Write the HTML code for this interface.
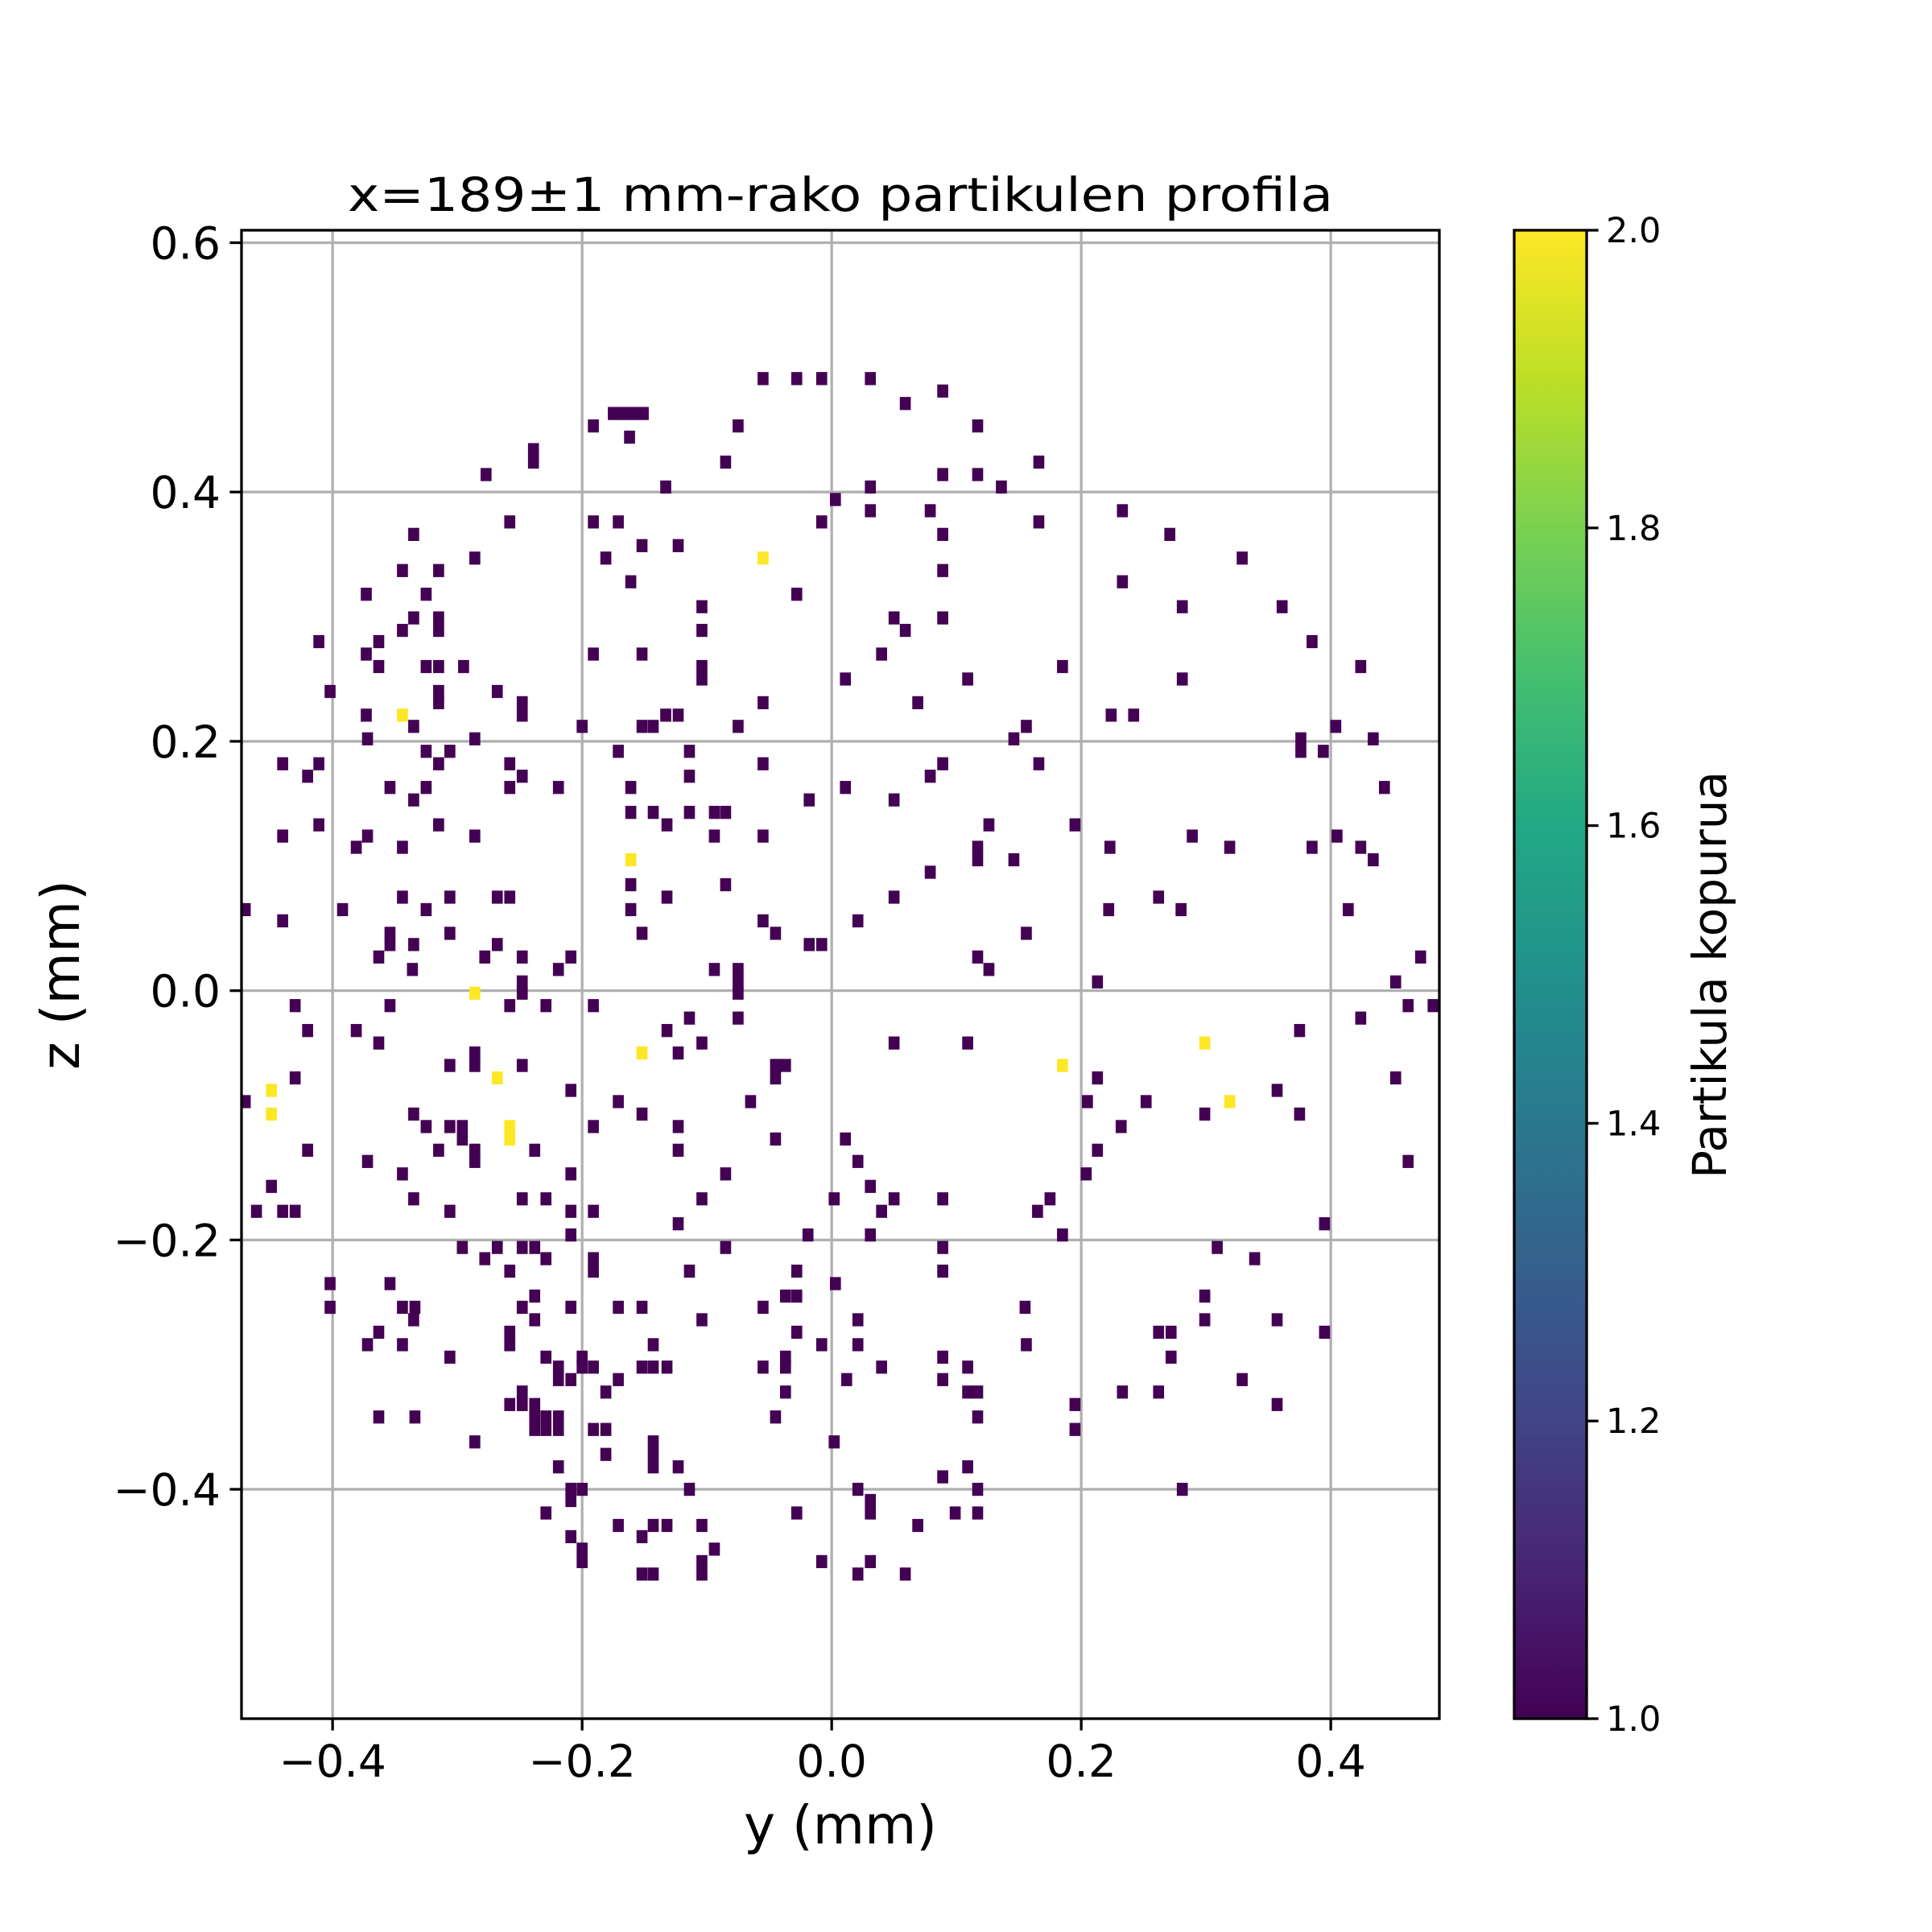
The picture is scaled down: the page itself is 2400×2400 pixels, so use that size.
<!DOCTYPE html>
<html><head><meta charset="utf-8"><style>
html,body{margin:0;padding:0;background:#fff;}
svg{display:block;font-family:"DejaVu Sans","Liberation Sans",sans-serif;}
</style></head><body>
<svg id="chart" width="2400" height="2400" viewBox="0 0 2400 2400" xmlns="http://www.w3.org/2000/svg">
<defs>
<linearGradient id="viridis" x1="0" y1="1" x2="0" y2="0">
<stop offset="0" stop-color="#440154"/><stop offset="0.1" stop-color="#482475"/><stop offset="0.2" stop-color="#414487"/><stop offset="0.3" stop-color="#355f8d"/><stop offset="0.4" stop-color="#2a788e"/><stop offset="0.5" stop-color="#21918c"/><stop offset="0.6" stop-color="#22a884"/><stop offset="0.7" stop-color="#44bf70"/><stop offset="0.8" stop-color="#7ad151"/><stop offset="0.9" stop-color="#bddf26"/><stop offset="1" stop-color="#fde725"/>
</linearGradient>
<clipPath id="plotclip"><rect x="300" y="286" width="1488" height="1849"/></clipPath>
</defs>
<rect width="2400" height="2400" fill="#fff"/>
<g id="grid"></g>
<g id="cells" clip-path="url(#plotclip)"></g>
<rect x="300" y="286" width="1488" height="1849" fill="none" stroke="#000" stroke-width="3.3"/>
<g id="axes"></g>
<text x="1044" y="262" font-size="58" text-anchor="middle" textLength="1224" lengthAdjust="spacingAndGlyphs">x=189±1 mm-rako partikulen profila</text>
<text x="1044" y="2290" font-size="66" text-anchor="middle">y (mm)</text>
<text x="0" y="0" font-size="66" text-anchor="middle" transform="translate(98,1211) rotate(-90)">z (mm)</text>
<rect x="1881" y="286" width="90" height="1849" fill="url(#viridis)" stroke="#000" stroke-width="3.3"/>
<g id="cbaxis"></g>
<text x="0" y="0" font-size="58" text-anchor="middle" transform="translate(2144,1211) rotate(-90)">Partikula kopurua</text>
</svg>
<script>
// axis domains
const yDomain = [-0.473, 0.487];
const zDomain = [-0.584, 0.61];
const xTicks = [-0.4, -0.2, 0.0, 0.2, 0.4];
const xTickLabels = ["\u22120.4", "\u22120.2", "0.0", "0.2", "0.4"];
const zTicks = [-0.4, -0.2, 0.0, 0.2, 0.4, 0.6];
const zTickLabels = ["\u22120.4", "\u22120.2", "0.0", "0.2", "0.4", "0.6"];
const cbTicks = [1.0, 1.2, 1.4, 1.6, 1.8, 2.0];
const cbTickLabels = ["1.0", "1.2", "1.4", "1.6", "1.8", "2.0"];
const binW = 0.0088, binH = 0.0105;
// cells with count 1: each row = z value and list of y values
const rowZ = [0.491,0.471,0.481,0.463,0.453,0.444,0.424,0.434,0.414,0.404,0.394,0.385,0.376,0.366,0.357,0.347,0.337,0.328,0.318,0.308,0.299,0.289,0.280,0.270,0.260,0.250,0.240,0.231,0.221,0.212,0.202,0.192,0.182,0.172,0.163,0.153,0.143,0.133,0.124,0.115,0.105,0.095,0.085,0.075,0.065,0.056,0.046,0.037,0.027,0.017,0.007,-0.002,-0.012,-0.022,-0.032,-0.042,-0.050,-0.060,-0.070,-0.080,-0.089,-0.099,-0.109,-0.119,-0.128,-0.137,-0.147,-0.157,-0.167,-0.177,-0.187,-0.196,-0.206,-0.215,-0.225,-0.235,-0.245,-0.254,-0.264,-0.274,-0.284,-0.294,-0.302,-0.312,-0.322,-0.332,-0.342,-0.352,-0.362,-0.372,-0.382,-0.390,-0.400,-0.409,-0.419,-0.429,-0.438,-0.448,-0.458,-0.468];
const rowY = [
[-0.055,-0.028,-0.008,0.031],[0.059],[0.089],[-0.175,-0.167,-0.159,-0.151],[0.117,-0.075,-0.191],[-0.162],
[0.166,-0.085,-0.239],[-0.239],[-0.277,0.089,0.117],[0.136,-0.133,0.031],[0.003],[0.233,0.079,0.031],
[-0.008,-0.258,-0.191,-0.171,0.166],[-0.335,0.089,0.271],[-0.123,-0.152],[-0.286,-0.181,0.329],
[-0.315,-0.344,0.089],[0.233,-0.161],[-0.028,-0.373,-0.325],[-0.104,0.281,0.361],[0.089,0.050,-0.335,-0.315],
[-0.315,-0.344,-0.104,0.059],[-0.411,-0.363,0.385],[-0.191,-0.152,0.040,-0.373],
[-0.325,-0.315,-0.295,-0.104,0.424,0.185,-0.363],[-0.104,0.011,0.109,0.281],[-0.402,-0.268,-0.315],
[-0.315,-0.055,0.069,-0.248],[-0.248,-0.373,0.224,0.242,-0.133,-0.123],
[-0.143,-0.152,-0.200,-0.075,-0.335,0.156,0.404],[-0.372,-0.286,0.146,0.376,0.434],
[0.376,0.394,-0.306,-0.325,-0.171,-0.114],[-0.440,-0.411,-0.258,-0.055,0.089,0.166,-0.315],
[-0.420,-0.248,0.079,-0.114],[-0.219,-0.354,-0.325,-0.258,-0.161,0.011,0.443],[-0.018,0.050,-0.335],
[-0.161,-0.143,-0.114,-0.094,-0.085],[-0.132,-0.315,-0.411,0.126,0.195],
[-0.440,-0.286,-0.094,-0.055,-0.372,0.405,0.289],[-0.344,-0.381,0.223,0.319,0.385,0.424,0.117],
[0.117,0.146,0.434],[0.079],[-0.161,-0.085],[-0.344,-0.306,-0.268,-0.258,-0.132,0.050,0.262],
[-0.470,-0.392,-0.325,-0.161,0.222,0.280,0.414],[-0.440,-0.055,0.021],
[-0.045,-0.152,-0.306,-0.354,0.156],[-0.354,-0.335,-0.268,-0.018,-0.008],
[-0.278,-0.248,-0.209,-0.363,0.117,0.472],[-0.336,-0.219,-0.094,-0.075,0.126],
[0.452,0.213,-0.248,-0.075],[-0.248,-0.075],[-0.354,-0.258,-0.229,-0.191,0.462,0.482,-0.430],
[-0.114,-0.075,0.424],[-0.420,-0.381,-0.132,0.375],[-0.104,0.050,0.109,-0.363],[-0.123,-0.286],
[-0.306,-0.286,-0.248,-0.045,-0.037],[-0.045,-0.430,0.213,0.452],[-0.209,0.357],
[-0.470,-0.171,-0.065,0.205,0.252],[-0.335,-0.152,0.299,0.375],[-0.325,-0.306,-0.296,-0.191,-0.123,0.232],
[-0.296,-0.045,0.011],[-0.315,-0.286,-0.420,-0.238,-0.123,0.213],[-0.372,-0.286,0.021,0.462],
[-0.344,-0.209,-0.085,0.204],[-0.449,0.031],[-0.335,-0.248,-0.229,-0.104,0.002,0.050,0.089,0.175],
[0.040,-0.461,-0.440,-0.430,-0.306,-0.209,-0.191,0.165],[-0.123,0.395],[-0.019,-0.209,0.031,0.185],
[-0.296,-0.268,-0.248,-0.238,-0.085,0.089,0.309],[-0.278,-0.191,-0.229,0.339],
[-0.191,-0.114,-0.028,-0.258,0.089],[0.003,-0.402,-0.354],[-0.238,-0.037,-0.028,0.299],
[-0.402,-0.344,-0.334,-0.209,-0.171,-0.152,-0.248,-0.055,0.155],[-0.335,-0.238,-0.104,0.021,0.299,0.357],
[-0.258,-0.363,-0.028,0.262,0.272,0.395],[-0.372,-0.344,-0.258,-0.008,0.021,0.156,-0.143],
[-0.200,-0.306,-0.037,0.089,0.272,-0.229],[-0.152,-0.200,-0.219,-0.191,-0.143,-0.132,-0.055,-0.037,0.040,0.109],
[0.012,-0.219,-0.209,-0.171,0.089,0.329],[0.109,0.117,-0.248,-0.181,-0.037,0.233,0.262],
[-0.258,-0.248,-0.238,0.195,0.357],[-0.363,-0.334,-0.045,0.117,-0.238,-0.229,-0.219],
[-0.238,-0.229,-0.219,-0.191,-0.181,0.195],[-0.286,0.002,-0.143],[-0.143,-0.181],
[-0.143,0.109,-0.219,-0.123],[0.089],[-0.209,-0.200,-0.114,0.021,0.117,0.281],[-0.209,0.031],
[-0.229,-0.028,0.031,0.099,0.117],[-0.171,-0.143,-0.132,-0.104,0.069],[-0.209,-0.152],
[-0.094,-0.200],[-0.200,-0.104,-0.008,0.031],[-0.152,-0.143,-0.104,0.021,0.059]
];
// cells with count 2
const doubleY = [-0.055,-0.344,-0.161,-0.286,0.299,-0.152,0.185,-0.268,-0.449,0.319,-0.449,-0.258,-0.258];
const doubleZ = [0.347,0.221,0.105,-0.002,-0.042,-0.050,-0.060,-0.070,-0.080,-0.089,-0.099,-0.109,-0.119];
const countColors = ["#440154", "#fde725"];

const NS = "http://www.w3.org/2000/svg";
const PL = 300, PR = 1788, PT = 286, PB = 2135;
function sx(y){ return PL + (y - yDomain[0]) / (yDomain[1] - yDomain[0]) * (PR - PL); }
function sz(z){ return PT + (zDomain[1] - z) / (zDomain[1] - zDomain[0]) * (PB - PT); }
const CBT = 286, CBB = 2135;
function sc(v){ return CBB - (v - 1) / 1 * (CBB - CBT); }
function mk(tag, attrs, parent){ const e = document.createElementNS(NS, tag); for (const k in attrs) e.setAttribute(k, attrs[k]); parent.appendChild(e); return e; }

const grid = document.getElementById('grid');
const axes = document.getElementById('axes');
const cells = document.getElementById('cells');
const cbaxis = document.getElementById('cbaxis');

xTicks.forEach((t, i) => {
  const x = sx(t);
  const gl = mk('line', {x1:x, x2:x, y1:PT, y2:PB, stroke:'#b0b0b0', 'stroke-width':3.3}, grid);
  
  
  const tk = mk('line', {x1:x, x2:x, y1:PB, y2:PB+14.6, stroke:'#000', 'stroke-width':3.3}, axes);
  
  
  const tx = mk('text', {x:x, y:PB+72, 'font-size':55, 'text-anchor':'middle'}, axes);
  tx.textContent = xTickLabels[i];
  
  
});
zTicks.forEach((t, i) => {
  const y = sz(t);
  const gl = mk('line', {x1:PL, x2:PR, y1:y, y2:y, stroke:'#b0b0b0', 'stroke-width':3.3}, grid);
  
  
  const tk = mk('line', {x1:PL-14.6, x2:PL, y1:y, y2:y, stroke:'#000', 'stroke-width':3.3}, axes);
  
  
  const tx = mk('text', {x:PL-26, y:y+20, 'font-size':55, 'text-anchor':'end'}, axes);
  tx.textContent = zTickLabels[i];
  
  
});

const cw = sx(binW) - sx(0), ch = sz(0) - sz(binH);
rowZ.forEach((z, r) => {
  rowY[r].forEach(y => {
    const c = mk('rect', {x:sx(y)-cw/2, y:sz(z)-ch/2, width:cw, height:ch, fill:countColors[0]}, cells);
    
    
  });
});
doubleY.forEach((y, i) => {
  const c = mk('rect', {x:sx(y)-cw/2, y:sz(doubleZ[i])-ch/2, width:cw, height:ch, fill:countColors[1]}, cells);
  
  
});

cbTicks.forEach((t, i) => {
  const y = sc(t);
  const tk = mk('line', {x1:1971, x2:1985.6, y1:y, y2:y, stroke:'#000', 'stroke-width':3.3}, cbaxis);
  
  
  const tx = mk('text', {x:1995, y:y+15, 'font-size':43, 'text-anchor':'start'}, cbaxis);
  tx.textContent = cbTickLabels[i];
  
  
});
</script>
</body></html>
